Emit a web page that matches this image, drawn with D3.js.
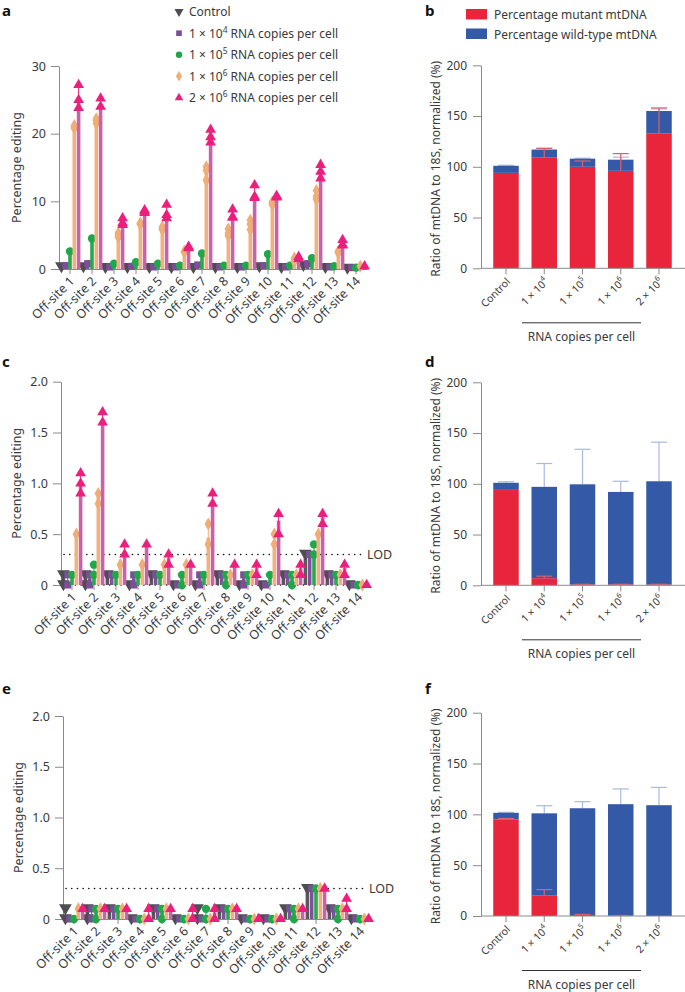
<!DOCTYPE html>
<html><head><meta charset="utf-8">
<script src="https://cdn.jsdelivr.net/npm/d3@7"></script>
<style>body{margin:0;background:#fff} svg{display:block;font-family:'Noto Sans',sans-serif}</style>
</head><body><svg id="c" width="685" height="992"></svg>
<script>
// ---------- DATA ----------
const sites = ["Off-site 1","Off-site 2","Off-site 3","Off-site 4","Off-site 5","Off-site 6","Off-site 7","Off-site 8","Off-site 9","Off-site 10","Off-site 11","Off-site 12","Off-site 13","Off-site 14"];
const seriesLabels = [["Control",null],["1 × 10","4"],["1 × 10","5"],["1 × 10","6"],["2 × 10","6"]];
const groups = ["Control","1 × 10^4","1 × 10^5","1 × 10^6","2 × 10^6"];
const ticksA = [0,10,20,30];
const ticksCE = [0,0.5,1.0,1.5,2.0];
const ticksBar = [0,50,100,150,200];
const LOD = 0.3;

// panel a (replicates per site)
const A_ctrl = [[0.3],[0.3],[0.2],[0.2],[0.2],[0.2],[0.2],[0.2],[0.2],[0.3],[0.2],[0.5],[0.2],[0.1]];
const A_1e4  = [[0.5],[0.8],[0.3],[0.4],[0.3],[0.3],[0.6],[0.3],[0.3],[0.5],[0.3],[0.8],[0.3],[0.2]];
const A_1e5  = [[2.6],[4.5],[0.8],[1.0],[0.8],[0.5],[2.3],[0.5],[0.5],[2.2],[0.5],[1.6],[0.4],[0.2]];
const A_1e6  = [[21,20.8,21.2],[22,21.5,22.2],[4.7,5.3,5],[6.7,6.6,6.8],[5.8,6.2,6],[2.5,2.6,2.5],[15.1,14.6,13.1],[5.9,5.3,4.9],[7.2,6.6,5.8],[9.9,9.5,9.7],[1.6,1.1,1.3],[11.6,10.7,10.3],[2.5,2.6,2.4],[0.4,0.4,0.4]];
const A_2e6  = [[23.8,25,27.2],[24,24,25.2],[6.8,7.5,6.5],[8.5,8.3,8.7],[8,9.5,7.5],[3.3,3.2,3.1],[20.6,19.5,18.7],[8.8,7.7,7.6],[12.4,10.7,10.5],[10.8,10.7,10.6],[1.8,1.5,1.5],[15.4,14.4,13.4],[4.3,3.5,3.6],[0.4,0.4,0.4]];

// panel c
const C_ctrl = [[0.1,0.1,0],[0.1,0.1,0],[0.1,0.1,0.1],[0,0,0],[0.1,0.1,0.1],[0,0,0],[0,0,0],[0.1,0.1,0.1],[0,0,0],[0,0,0],[0.1,0.1,0.1],[0.3,0.3,0.3],[0.1,0.1,0.1],[0,0,0]];
const C_1e4  = [[0.1,0,0],[0.1,0,0.1],[0.1,0.1,0.1],[0.1,0.1,0],[0.1,0.1,0.1],[0,0,0],[0.1,0.1,0],[0.1,0.1,0.1],[0.1,0.1,0],[0,0,0],[0.1,0.1,0.1],[0.3,0.3,0.3],[0.1,0.1,0.1],[0,0,0]];
const C_1e5  = [[0.1,0.1,0.1],[0.2,0.1,0.1],[0.1,0.1,0.1],[0.1,0.1,0.1],[0.1,0.1,0.1],[0.1,0.1,0],[0.1,0.1,0.1],[0.1,0.1,0],[0.1,0.1,0.1],[0.1,0.1,0.1],[0.1,0.1,0],[0.4,0.3,0.3],[0.1,0.1,0.1],[0,0,0]];
const C_1e6  = [[0.5,0.5,0.5],[0.9,0.9,0.8],[0.2,0.2,0.2],[0.2,0.2,0.2],[0.2,0.2,0.2],[0.2,0.2,0.2],[0.6,0.4,0.4],[0.1,0.1,0.1],[0.1,0.1,0.1],[0.5,0.4,0.4],[0.1,0.1,0.1],[0.5,0.5,0.5],[0.1,0.1,0.1],[0,0,0]];
const C_2e6  = [[1.1,1.0,0.9],[1.7,1.6,1.6],[0.4,0.3,0.3],[0.4,0.4,0.4],[0.3,0.3,0.2],[0.2,0.2,0.2],[0.9,0.8,0.8],[0.2,0.2,0.2],[0.2,0.2,0.1],[0.7,0.7,0.5],[0.2,0.2,0.1],[0.7,0.7,0.6],[0.2,0.2,0.1],[0,0,0]];

// panel e
const E_ctrl = [[0.1,0,0],[0.1,0.1,0],[0.1,0.1,0.1],[0,0,0],[0.1,0.1,0.1],[0,0,0],[0.1,0,0],[0.1,0.1,0.1],[0,0,0],[0,0,0],[0.1,0.1,0.1],[0.3,0.3,0.3],[0.1,0.1,0.1],[0,0,0]];
const E_1e4  = [[0,0,0],[0.1,0,0],[0.1,0.1,0.1],[0,0,0],[0.1,0.1,0.1],[0,0,0],[0,0,0],[0.1,0.1,0.1],[0,0,0],[0,0,0],[0.1,0.1,0.1],[0.3,0.3,0.3],[0.1,0.1,0.1],[0,0,0]];
const E_1e5  = [[0,0,0],[0.1,0.1,0],[0.1,0.1,0.1],[0,0,0],[0.1,0.1,0],[0,0,0],[0.1,0,0],[0.1,0.1,0.1],[0,0,0],[0,0,0],[0.1,0.1,0],[0.3,0.3,0.3],[0.1,0.1,0],[0,0,0]];
const E_1e6  = [[0.1,0.1,0.1],[0.1,0.1,0.1],[0.1,0.1,0.1],[0,0,0],[0.1,0.1,0.1],[0,0,0],[0,0,0],[0.1,0.1,0.1],[0,0,0],[0,0,0],[0.1,0.1,0.1],[0.3,0.3,0.3],[0.1,0.1,0.1],[0,0,0]];
const E_2e6  = [[0.1,0.1,0.1],[0.1,0.1,0.1],[0.1,0.1,0.1],[0.1,0,0],[0.1,0.1,0.1],[0.1,0,0],[0.1,0.1,0],[0.1,0.1,0.1],[0,0,0],[0,0,0],[0.1,0.1,0.1],[0.3,0.3,0.3],[0.2,0.1,0.1],[0,0,0]];

// panels b, d, f: mutant %, total, upper error values
const B_mut = [94,109,100,96,133],  B_tot = [101,117,108,107,155];
const B_mutHi = [94,118,105.7,113,158], B_totHi = [101.5,118.5,108.5,109.5,157];
const D_mut = [94,7,0.8,0.8,0.8],   D_tot = [101,97,99.5,92,102.5];
const D_mutHi = [94,9,1,1,1], D_totHi = [102,120,134,102.5,141];
const F_mut = [95,20,1,0.3,0],      F_tot = [101.5,101,106,110,109];
const F_mutHi = [96,26,1.5,0.5,0], F_totHi = [102,108.5,112.5,125,126.5];

// ---------- STYLE ----------
const markerCol = ["#4d4d52","#7d4d99","#1fa84b","#f0ad76","#ec1f7d"];
const barCol    = ["#58585d","#7f509b","#2aa850","#f2b27e","#c963a8"];
const sym = [d3.symbolTriangle, d3.symbolSquare, d3.symbolCircle, d3.symbolDiamond, d3.symbolTriangle];
const symSize = [70, 50, 55, 50, 50];
const symRot = [180,0,0,0,0];
const textCol = "#3a3a3a", axisCol = "#8a8a8a";
const RED = "#e8253a", BLUE = "#3459a6";
const fmtCE = d => d === 0 ? "0" : d3.format(".1f")(d);

const svg = d3.select("#c");

function panelLabel(t,x,y){ svg.append("text").attr("x",x).attr("y",y).attr("font-weight","bold").attr("font-size",15).attr("fill","#111").text(t); }

function styleAxis(g, fs){
  g.selectAll(".domain").attr("stroke",axisCol);
  g.selectAll(".tick line").attr("stroke",axisCol);
  g.selectAll(".tick text").attr("fill",textCol).attr("font-size",fs||12).attr("font-family","'Noto Sans',sans-serif");
}

function sitePanel(x0, y0, yTop, yMax, ticks, fmt, data, opts){
  const g = svg.append("g");
  const x = d3.scaleBand().domain(sites).range([x0, x0+308]);
  const y = d3.scaleLinear().domain([0,yMax]).range([y0,yTop]);
  // y axis
  const ya = g.append("g").attr("transform",`translate(${x0},0)`)
    .call(d3.axisLeft(y).tickValues(ticks).tickFormat(fmt).tickSize(8).tickSizeOuter(0).tickPadding(5));
  styleAxis(ya, 12.5);
  // x axis
  const xa = g.append("g").attr("transform",`translate(0,${y0})`)
    .call(d3.axisBottom(x).tickSize(5).tickSizeOuter(0).tickFormat(""));
  styleAxis(xa);
  if (opts.zeroDotted) xa.select(".domain").attr("stroke","none");
  x.domain().forEach(s=>{
    g.append("text").attr("transform",`translate(${x(s)+x.bandwidth()/2+5},${y0+13}) rotate(-45)`)
      .attr("text-anchor","end").attr("font-size",12.5).attr("fill",textCol).text(s);
  });
  // LOD
  if (opts.lod){
    g.append("line").attr("x1",x0+3).attr("x2",x0+304).attr("y1",y(LOD)).attr("y2",y(LOD))
      .attr("stroke","#111").attr("stroke-width",1.6).attr("stroke-dasharray","0.1,5.6").attr("stroke-linecap","round");
    g.append("text").attr("x",x0+306).attr("y",y(LOD)+4.5).attr("font-size",12.5).attr("fill",textCol).text("LOD");
  }
  if (opts.zeroDotted){
    g.append("line").attr("x1",x0+3).attr("x2",x0+300).attr("y1",y0).attr("y2",y0)
      .attr("stroke","#111").attr("stroke-width",1.6).attr("stroke-dasharray","0.1,5.6").attr("stroke-linecap","round");
  }
  // marks
  data.forEach((ser,i)=>{
    ser.forEach((reps,j)=>{
      const cx = x(sites[j]) + x.bandwidth()/2 + (i-2)*4.3;
      const m = d3.mean(reps);
      g.append("rect").attr("x",cx-1.8).attr("width",3.6).attr("y",y(m)).attr("height",y(0)-y(m)).attr("fill",barCol[i]);
      const lo = d3.min(reps), hi = d3.max(reps);
      if (hi>lo) g.append("line").attr("x1",cx).attr("x2",cx).attr("y1",y(lo)).attr("y2",y(hi)).attr("stroke",markerCol[i]).attr("stroke-width",1);
      Array.from(new Set(reps)).forEach(v=>{
        g.append("path").attr("d",d3.symbol(sym[i],symSize[i])())
          .attr("transform",`translate(${cx},${y(v)+(symRot[i]?-1:0)}) rotate(${symRot[i]})`)
          .attr("fill",markerCol[i]);
      });
    });
  });
  // y title
  g.append("text").attr("transform",`translate(${opts.titleX},${(y0+yTop)/2}) rotate(-90)`)
    .attr("text-anchor","middle").attr("font-size",12.5).attr("fill",textCol).text("Percentage editing");
}

function supText(sel, base, sup){
  sel.append("tspan").text(base);
  if (sup) sel.append("tspan").attr("baseline-shift","super").attr("font-size","0.7em").text(sup);
}

function barPanel(y0, yTop, mut, tot, mutHi, totHi){
  const g = svg.append("g");
  const x0 = 481;
  const x = d3.scalePoint().domain(groups).range([506,659]);
  const y = d3.scaleLinear().domain([0,200]).range([y0,yTop]);
  const bw = 25.5;
  const rows = groups.map((k,i)=>({k, mutant:mut[i], wild:tot[i]-mut[i]}));
  const stack = d3.stack().keys(["mutant","wild"])(rows);
  const cols = {mutant:RED, wild:BLUE};
  // blue error bars (behind)
  groups.forEach((k,i)=>{
    const cx = x(k);
    g.append("line").attr("x1",cx).attr("x2",cx).attr("y1",y(tot[i])).attr("y2",y(totHi[i])).attr("stroke","#a8badf").attr("stroke-width",1.2);
    g.append("line").attr("x1",cx-8).attr("x2",cx+8).attr("y1",y(totHi[i])).attr("y2",y(totHi[i])).attr("stroke","#a8badf").attr("stroke-width",1.2);
  });
  stack.forEach(layer=>{
    g.selectAll(null).data(layer).enter().append("rect")
      .attr("x",d=>x(d.data.k)-bw/2).attr("width",bw)
      .attr("y",d=>y(d[1])).attr("height",d=>Math.max(0,y(d[0])-y(d[1])))
      .attr("fill",cols[layer.key]);
  });
  // red error bars
  groups.forEach((k,i)=>{
    const cx = x(k);
    if (mutHi[i]>mut[i]){
      g.append("line").attr("x1",cx).attr("x2",cx).attr("y1",y(mut[i])).attr("y2",y(mutHi[i])).attr("stroke","#e0606d").attr("stroke-width",1.2);
      g.append("line").attr("x1",cx-8).attr("x2",cx+8).attr("y1",y(mutHi[i])).attr("y2",y(mutHi[i])).attr("stroke","#e0606d").attr("stroke-width",1.2);
    }
  });
  const ya = g.append("g").attr("transform",`translate(${x0},0)`)
    .call(d3.axisLeft(y).tickValues(ticksBar).tickSize(8).tickSizeOuter(0).tickPadding(6));
  styleAxis(ya, 12);
  g.append("line").attr("x1",x0).attr("x2",685).attr("y1",y0).attr("y2",y0).attr("stroke",axisCol);
  groups.forEach((k,i)=>{
    g.append("line").attr("x1",x(k)).attr("x2",x(k)).attr("y1",y0).attr("y2",y0+6).attr("stroke",axisCol);
    const t = g.append("text").attr("transform",`translate(${x(k)+5},${y0+14}) rotate(-45)`)
      .attr("text-anchor","end").attr("font-size",10.5).attr("fill",textCol);
    const parts = k.split("^");
    supText(t, parts[0], parts[1]);
  });
  g.append("line").attr("x1",522).attr("x2",641).attr("y1",y0+54.5).attr("y2",y0+54.5).attr("stroke","#333").attr("stroke-width",1);
  g.append("text").attr("x",581.5).attr("y",y0+72.5).attr("text-anchor","middle").attr("font-size",12).attr("fill",textCol).text("RNA copies per cell");
  g.append("text").attr("transform",`translate(440,${(y0+yTop)/2+2}) rotate(-90)`)
    .attr("text-anchor","middle").attr("font-size",12).attr("fill",textCol).text("Ratio of mtDNA to 18S, normalized (%)");
}

// ---------- PANELS ----------
panelLabel("a",2,16);
sitePanel(59,269,66,30,ticksA,d3.format("d"),[A_ctrl,A_1e4,A_1e5,A_1e6,A_2e6],{titleX:21});
// legend a
seriesLabels.forEach((lab,i)=>{
  const yy = 11.7 + i*21.5;
  svg.append("path").attr("d",d3.symbol(sym[i],i===0?36:32)())
    .attr("transform",`translate(179,${yy}) rotate(${symRot[i]})`).attr("fill",markerCol[i]);
  const t = svg.append("text").attr("x",189).attr("y",yy+4.5).attr("font-size",12).attr("fill",textCol);
  supText(t, lab[0], lab[1]);
  if (lab[1]) t.append("tspan").text(" RNA copies per cell");
});

panelLabel("b",425,16);
const lg = svg.append("g");
lg.append("rect").attr("x",466).attr("y",9).attr("width",21).attr("height",10.5).attr("fill",RED);
lg.append("rect").attr("x",466).attr("y",28.5).attr("width",21).attr("height",10.5).attr("fill",BLUE);
lg.append("text").attr("x",494).attr("y",19).attr("font-size",12).attr("fill",textCol).text("Percentage mutant mtDNA");
lg.append("text").attr("x",494).attr("y",38.5).attr("font-size",12).attr("fill",textCol).text("Percentage wild-type mtDNA");
barPanel(268.3,65.3,B_mut,B_tot,B_mutHi,B_totHi);

panelLabel("c",2,367);
sitePanel(61,585,381.7,2,ticksCE,fmtCE,[C_ctrl,C_1e4,C_1e5,C_1e6,C_2e6],{titleX:21,lod:true,zeroDotted:true});
panelLabel("d",425,367);
barPanel(585.3,382.3,D_mut,D_tot,D_mutHi,D_totHi);

panelLabel("e",2,694);
sitePanel(63,919,716,2,ticksCE,fmtCE,[E_ctrl,E_1e4,E_1e5,E_1e6,E_2e6],{titleX:23,lod:true});
panelLabel("f",425,694);
barPanel(916,712.7,F_mut,F_tot,F_mutHi,F_totHi);
</script></body></html>
